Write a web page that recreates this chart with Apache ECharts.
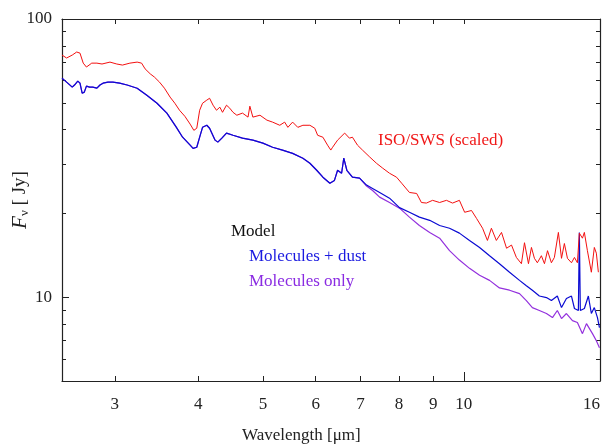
<!DOCTYPE html>
<html>
<head>
<meta charset="utf-8">
<script src="https://cdn.jsdelivr.net/npm/echarts@6/dist/echarts.min.js"></script>
<style>
  html, body { margin: 0; padding: 0; background: #fff; }
  #chart { width: 605px; height: 447px; }
</style>
</head>
<body>
<div id="chart"></div>
<script>
// ISO/SWS spectrum (scaled)
var isoWave = [2.50, 2.54, 2.59, 2.63, 2.66, 2.69, 2.72, 2.77, 2.82, 2.87, 2.95, 3.02, 3.08, 3.16, 3.24, 3.29,
  3.33, 3.39, 3.44, 3.50, 3.56, 3.63, 3.69, 3.75, 3.82, 3.89, 3.94, 3.98, 4.02, 4.06, 4.12, 4.16, 4.21, 4.26,
  4.31, 4.35, 4.41, 4.46, 4.51, 4.57, 4.66, 4.75, 4.78, 4.83, 4.95, 5.07, 5.17, 5.30, 5.39, 5.45, 5.54, 5.64,
  5.74, 5.88, 5.98, 6.04, 6.15, 6.25, 6.32, 6.36, 6.47, 6.63, 6.74, 6.81, 6.93, 7.05, 7.23, 7.40, 7.56, 7.74,
  7.93, 8.07, 8.29, 8.50, 8.64, 8.79, 8.98, 9.20, 9.42, 9.62, 9.85, 10.03, 10.27, 10.45, 10.67, 10.85, 11.00,
  11.19, 11.39, 11.59, 11.79, 11.99, 12.20, 12.33, 12.50, 12.63, 12.76, 12.89, 13.07, 13.21, 13.35, 13.53,
  13.67, 13.86, 14.01, 14.15, 14.30, 14.50, 14.65, 14.80, 14.90, 15.06, 15.16, 15.32, 15.53, 15.69, 15.80,
  15.91];
var isoFlux = [74.2, 72.4, 74.2, 76.1, 75.4, 69.4, 67.2, 69.4, 69.4, 68.9, 70.0, 68.9, 68.3, 69.4, 70.0, 69.4,
  66.2, 63.5, 61.8, 59.3, 56.4, 52.4, 49.8, 47.0, 44.7, 41.9, 39.8, 40.5, 47.0, 49.8, 51.1, 51.9, 49.0, 47.0,
  48.2, 46.2, 49.0, 47.8, 46.2, 45.1, 45.9, 44.4, 48.6, 44.4, 45.1, 43.3, 42.6, 41.5, 42.6, 40.8, 42.6, 40.8,
  41.5, 41.5, 40.5, 38.2, 37.6, 35.2, 33.8, 34.6, 36.7, 38.9, 37.3, 37.6, 35.2, 33.8, 31.9, 30.3, 29.1, 27.9,
  27.0, 25.7, 23.8, 23.6, 21.9, 21.8, 22.3, 21.9, 22.3, 21.8, 22.3, 20.2, 20.5, 19.2, 17.7, 16.0, 17.7,
  16.0, 17.1, 15.0, 15.4, 13.9, 13.2, 15.7, 13.2, 15.1, 13.8, 13.3, 14.1, 13.2, 14.7, 13.3,
  13.9, 17.1, 13.8, 15.6, 13.8, 13.3, 13.9, 13.3, 17.0, 16.3, 17.1, 14.7, 12.3, 15.1, 14.4,
  12.3];

// model: molecules + dust
var dustWave = [2.50, 2.54, 2.59, 2.61, 2.64, 2.66, 2.68, 2.70, 2.72, 2.75, 2.78, 2.82, 2.85, 2.88, 2.93, 2.98,
  3.05, 3.13, 3.24, 3.35, 3.47, 3.59, 3.71, 3.79, 3.89, 3.93, 3.98, 4.02, 4.06, 4.12, 4.16, 4.24, 4.28, 4.34,
  4.41, 4.51, 4.66, 4.83, 5.00, 5.17, 5.35, 5.54, 5.74, 5.88, 6.02, 6.15, 6.30, 6.40, 6.47, 6.56, 6.61, 6.68,
  6.81, 6.98, 7.15, 7.30, 7.48, 7.74, 8.01, 8.29, 8.58, 8.89, 9.20, 9.52, 9.85, 10.20, 10.56, 10.93, 11.31,
  11.71, 12.12, 12.41, 12.67, 12.98, 13.30, 13.53, 13.81, 14.01, 14.25, 14.50, 14.65, 14.85, 14.90, 14.95,
  15.16, 15.37, 15.53, 15.69, 15.86, 15.97];
var dustFlux = [61.3, 59.3, 56.9, 57.9, 59.8, 58.8, 54.1, 54.6, 57.4, 56.9, 56.9, 56.4, 57.9, 58.8, 59.3, 59.3,
  58.8, 57.9, 56.4, 53.2, 49.8, 45.9, 40.8, 37.6, 35.2, 34.3, 34.6, 37.6, 40.8, 41.5, 40.5, 36.7, 36.1, 37.3,
  38.9, 38.2, 37.3, 36.7, 35.8, 34.6, 33.8, 32.9, 31.6, 30.3, 28.6, 27.0, 25.7, 26.3, 28.6, 27.9, 31.6, 28.6,
  27.0, 26.8, 25.3, 24.6, 23.8, 22.7, 21.0, 20.2, 19.4, 18.9, 18.1, 17.7, 17.0, 16.0, 15.1, 14.1, 13.2,
  12.3, 11.5, 11.0, 10.6, 10.1, 9.97, 9.73, 10.1, 9.18, 9.89, 10.1, 9.11, 8.96, 17.1, 8.96,
  9.11, 10.1, 8.74, 9.18, 8.45, 7.78];

// model: molecules only (lies under the dust model below ~7 um)
var molWave = [2.50, 2.54, 2.59, 2.61, 2.64, 2.66, 2.68, 2.70, 2.72, 2.75, 2.78, 2.82, 2.85, 2.88, 2.93, 2.98,
  3.05, 3.13, 3.24, 3.35, 3.47, 3.59, 3.71, 3.79, 3.89, 3.93, 3.98, 4.02, 4.06, 4.12, 4.16, 4.24, 4.28, 4.34,
  4.41, 4.51, 4.66, 4.83, 5.00, 5.17, 5.35, 5.54, 5.74, 5.88, 6.02, 6.15, 6.30, 6.40, 6.47, 6.56, 6.61, 6.68,
  6.81, 6.98, 7.15, 7.30, 7.48, 7.74, 8.01, 8.29, 8.58, 8.89, 9.20, 9.52, 9.85, 10.20, 10.56, 10.93, 11.31,
  11.71, 12.12, 12.41, 12.67, 12.98, 13.30, 13.58, 13.81, 14.01, 14.25, 14.55, 14.80, 15.06, 15.27, 15.59,
  15.80, 15.97];
var molFlux = [61.3, 59.3, 56.9, 57.9, 59.8, 58.8, 54.1, 54.6, 57.4, 56.9, 56.9, 56.4, 57.9, 58.8, 59.3, 59.3,
  58.8, 57.9, 56.4, 53.2, 49.8, 45.9, 40.8, 37.6, 35.2, 34.3, 34.6, 37.6, 40.8, 41.5, 40.5, 36.7, 36.1, 37.3,
  38.9, 38.2, 37.3, 36.7, 35.8, 34.6, 33.8, 32.9, 31.6, 30.3, 28.6, 27.0, 25.7, 26.3, 28.6, 27.9, 31.6, 28.6,
  27.0, 26.8, 25.1, 24.2, 22.9, 21.9, 20.9, 19.4, 18.1, 17.1, 16.3, 14.7, 13.6, 12.7, 12.0, 11.5, 10.8,
  10.6, 10.3, 9.73, 9.18, 8.96, 8.74, 8.45, 8.96, 8.38, 8.74, 8.24, 8.11, 7.40, 8.04, 7.40,
  6.98, 6.59];

// tick labels
var xTicks = [3, 4, 5, 6, 7, 8, 9, 10, 16];
var xMajor = [10];
var yLabels = [10, 100];
var yTicks = [6, 7, 8, 9, 10, 20, 30, 40, 50, 60, 70, 80, 90, 100];

function pairs(w, f) {
  return w.map(function (v, i) { return [v, f[i]]; });
}

var font = "'Liberation Serif', 'DejaVu Serif', serif";
var axisLine = { show: true, lineStyle: { color: "#222", width: 1.2 } };
var tickStyle = { color: "#222", width: 1 };

var chart = echarts.init(document.getElementById("chart"));
var option = {
  animation: false,
  backgroundColor: "#fff",
  grid: { left: 62, right: 5, top: 19, bottom: 66, containLabel: false, outerBoundsMode: "none" },
  xAxis: [
    {
      type: "log", logBase: 10, min: 2.5, max: 16, position: "bottom",
      axisLine: axisLine,
      axisTick: { inside: true, length: 5, customValues: xTicks, lineStyle: tickStyle },
      axisLabel: {
        customValues: xTicks, margin: 15, fontFamily: font, fontSize: 17, color: "#222",
        alignMaxLabel: "right"
      },
      splitLine: { show: false }
    },
    {
      type: "log", logBase: 10, min: 2.5, max: 16, position: "top",
      axisLine: axisLine,
      axisTick: { inside: true, length: 5, customValues: xTicks, lineStyle: tickStyle },
      axisLabel: { show: false },
      splitLine: { show: false }
    },
    {
      // longer tick at the decade
      type: "log", logBase: 10, min: 2.5, max: 16, position: "bottom",
      axisLine: { show: false },
      axisTick: { inside: true, length: 9, customValues: xMajor, lineStyle: tickStyle },
      axisLabel: { show: false },
      splitLine: { show: false }
    }
  ],
  yAxis: [
    {
      type: "log", logBase: 10, min: 5, max: 100, position: "left",
      axisLine: axisLine,
      axisTick: { inside: true, length: 4, customValues: yTicks, lineStyle: tickStyle },
      axisLabel: { customValues: yLabels, margin: 10, fontFamily: font, fontSize: 17, color: "#222" },
      splitLine: { show: false },
      name: "{f|F}{s|ν} [ Jy]",
      nameLocation: "middle",
      nameRotate: 90,
      nameGap: 31,
      nameMoveOverlap: false,
      nameTextStyle: {
        fontFamily: font, fontSize: 19, color: "#222",
        rich: {
          f: { fontFamily: font, fontSize: 21, fontStyle: "italic", color: "#222" },
          s: { fontFamily: font, fontSize: 13, color: "#222", verticalAlign: "bottom", padding: [8, 0, 0, 0] }
        }
      }
    },
    {
      type: "log", logBase: 10, min: 5, max: 100, position: "right",
      axisLine: axisLine,
      axisTick: { inside: true, length: 4, customValues: yTicks, lineStyle: tickStyle },
      axisLabel: { show: false },
      splitLine: { show: false }
    },
    {
      // longer ticks at the decades
      type: "log", logBase: 10, min: 5, max: 100, position: "left",
      axisLine: { show: false },
      axisTick: { inside: true, length: 7, customValues: yLabels, lineStyle: tickStyle },
      axisLabel: { show: false },
      splitLine: { show: false }
    }
  ],
  graphic: [
    { type: "text", left: 242, top: 427, style: { text: "Wavelength [μm]", font: "17px " + font, fill: "#222" } },
    { type: "text", left: 378, top: 132, style: { text: "ISO/SWS (scaled)", font: "17px " + font, fill: "#f01818" } },
    { type: "text", left: 231, top: 223, style: { text: "Model", font: "17px " + font, fill: "#111" } },
    { type: "text", left: 249, top: 248, style: { text: "Molecules + dust", font: "17px " + font, fill: "#1a1ae0" } },
    { type: "text", left: 249, top: 273, style: { text: "Molecules only", font: "17px " + font, fill: "#8a2be2" } }
  ],
  series: [
    {
      name: "Molecules only", type: "line", showSymbol: false, xAxisIndex: 0, yAxisIndex: 0,
      data: pairs(molWave, molFlux), lineStyle: { color: "#9330dd", width: 1.2 }
    },
    {
      name: "Molecules + dust", type: "line", showSymbol: false, xAxisIndex: 0, yAxisIndex: 0,
      data: pairs(dustWave, dustFlux), lineStyle: { color: "#0a0ad2", width: 1.2 }
    },
    {
      name: "ISO/SWS (scaled)", type: "line", showSymbol: false, xAxisIndex: 0, yAxisIndex: 0,
      data: pairs(isoWave, isoFlux), lineStyle: { color: "#f31010", width: 1 }
    }
  ]
};
chart.setOption(option);
</script>
</body>
</html>
